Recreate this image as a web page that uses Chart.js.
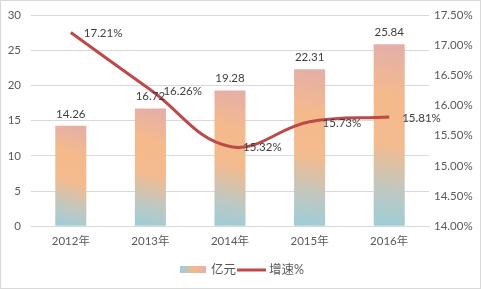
<!DOCTYPE html>
<html>
<head>
<meta charset="utf-8">
<script src="https://cdn.jsdelivr.net/npm/chart.js@4.4.0/dist/chart.umd.min.js"></script>
<style>
  html, body { margin: 0; padding: 0; background: #fff; }
  #wrap { position: relative; width: 479px; height: 287px; border: 1px solid #d9d9d9; }
</style>
</head>
<body>
<div id="wrap"><canvas id="grafico" width="479" height="287"></canvas></div>
<script>
// datos del gráfico
const anios = ['2012年', '2013年', '2014年', '2015年', '2016年'];
const valores = [14.26, 16.72, 19.28, 22.31, 25.84];   // 亿元
const crecimiento = [17.21, 16.26, 15.32, 15.73, 15.81]; // 增速%

const fuente = 'Lato, "Noto Sans CJK SC", sans-serif';
const colorTexto = '#595959';

// degradado de cada barra (abajo-izquierda azul, centro naranja, arriba rosa)
function degradadoBarra(context) {
    const chart = context.chart;
    const x = chart.scales.x, y = chart.scales.y;
    if (!x || !y || context.dataIndex === undefined) return '#f5ba8b';
    const cx = x.getPixelForValue(context.dataIndex);
    const top = y.getPixelForValue(valores[context.dataIndex]);
    const bottom = y.getPixelForValue(0);
    if (![cx, top, bottom].every(Number.isFinite)) return '#f5ba8b';
    const g = chart.ctx.createLinearGradient(cx - 16, bottom, cx + 16, top);
    g.addColorStop(0, '#9ccdd8');
    g.addColorStop(0.2, '#bec8c2');
    g.addColorStop(0.45, '#f3bb8f');
    g.addColorStop(0.7, '#f5ba8b');
    g.addColorStop(1, '#e3aeaa');
    return g;
}

// etiquetas de datos y leyenda propia
const etiquetas = {
    id: 'etiquetas',
    afterDatasetsDraw(chart) {
        const ctx = chart.ctx;
        ctx.save();
        ctx.font = '11.5px ' + fuente;
        ctx.fillStyle = '#404040';
        const barras = chart.getDatasetMeta(0).data;
        ctx.textAlign = 'center';
        ctx.textBaseline = 'bottom';
        barras.forEach((b, i) => {
            ctx.fillText(valores[i].toFixed(2), b.x, b.y - 6);
        });
        const puntos = chart.getDatasetMeta(1).data;
        ctx.textAlign = 'left';
        ctx.textBaseline = 'middle';
        puntos.forEach((p, i) => {
            ctx.fillText(crecimiento[i].toFixed(2) + '%', p.x + 13, p.y + 1);
        });

        // leyenda
        const ly = 269;
        const g = ctx.createLinearGradient(180, 0, 206, 0);
        g.addColorStop(0, '#9ccdd8');
        g.addColorStop(0.5, '#f5ba8b');
        g.addColorStop(1, '#e3aeaa');
        ctx.fillStyle = g;
        ctx.fillRect(179, ly - 4, 26, 7);
        ctx.fillStyle = colorTexto;
        ctx.font = '12.5px ' + fuente;
        ctx.fillText('亿元', 210, ly);
        ctx.strokeStyle = '#be4b48';
        ctx.lineWidth = 3;
        ctx.beginPath();
        ctx.moveTo(236, ly);
        ctx.lineTo(265, ly);
        ctx.stroke();
        ctx.fillText('增速%', 268, ly);
        ctx.restore();
    }
};

new Chart(document.getElementById('grafico').getContext('2d'), {
    type: 'bar',
    data: {
        labels: anios,
        datasets: [{
            type: 'bar',
            label: '亿元',
            data: valores,
            backgroundColor: degradadoBarra,
            barPercentage: 0.39,
            categoryPercentage: 1,
            yAxisID: 'y',
            order: 2
        }, {
            type: 'line',
            label: '增速%',
            data: crecimiento,
            borderColor: '#bc4a48',
            borderWidth: 3,
            tension: 0.4,
            pointRadius: 0,
            fill: false,
            yAxisID: 'y2',
            order: 1
        }]
    },
    plugins: [etiquetas],
    options: {
        responsive: false,
        animation: false,
        layout: { padding: { top: 14, bottom: 40, left: 0, right: 0 } },
        plugins: { legend: { display: false }, tooltip: { enabled: false } },
        scales: {
            x: {
                grid: { display: false },
                border: { display: true, color: '#d9d9d9' },
                ticks: { color: colorTexto, font: { family: fuente, size: 11.5 }, padding: 0 }
            },
            y: {
                position: 'left',
                min: 0, max: 30,
                ticks: { stepSize: 5, color: colorTexto, font: { family: fuente, size: 11.5 }, padding: 10 },
                grid: { color: '#d9d9d9', drawTicks: false },
                border: { display: false },
                afterFit(s) { s.width = 30; s.paddingTop = 0; s.paddingBottom = 0; }
            },
            y2: {
                position: 'right',
                min: 14, max: 17.5,
                ticks: {
                    stepSize: 0.5, color: colorTexto, font: { family: fuente, size: 11.5 }, padding: -3,
                    callback: v => v.toFixed(2) + '%'
                },
                grid: { display: false },
                border: { display: false },
                afterFit(s) { s.width = 51; s.paddingTop = 0; s.paddingBottom = 0; }
            }
        }
    }
});
</script>
</body>
</html>
